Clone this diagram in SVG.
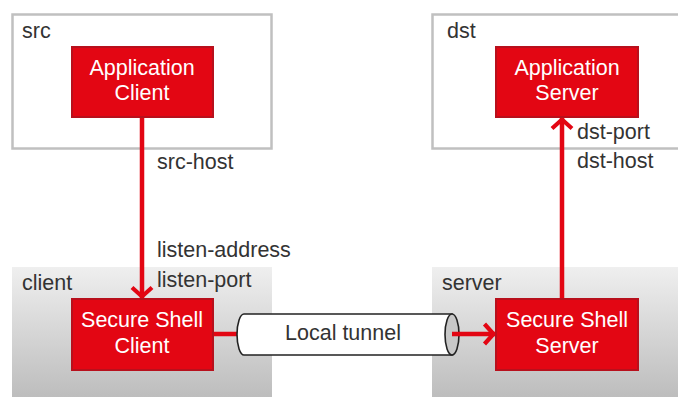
<svg xmlns="http://www.w3.org/2000/svg" width="678" height="397" viewBox="0 0 678 397">
<defs>
<linearGradient id="gz" x1="0" y1="0" x2="0" y2="1">
<stop offset="0" stop-color="#efefef"/>
<stop offset="1" stop-color="#bdbdbd"/>
</linearGradient>
<marker id="ah" viewBox="0 0 16 26" refX="13.5" refY="13" markerWidth="16" markerHeight="26" markerUnits="userSpaceOnUse" orient="auto">
<path d="M3,3 L12,13 L3,23" fill="none" stroke="#e30613" stroke-width="4.2"/>
</marker>
</defs>
<style>
.zone{fill:#ffffff;stroke:#c0c0c0;stroke-width:2.5}
.gzone{fill:url(#gz);stroke:none}
.box{fill:#e30613;stroke:#b8101c;stroke-width:2}
.lbl{font-family:"Liberation Sans",Arial,sans-serif;font-size:21.5px;fill:#333333}
.wt{font-family:"Liberation Sans",Arial,sans-serif;font-size:21.5px;fill:#ffffff;text-anchor:middle}
.conn{stroke:#e30613;stroke-width:4.5;fill:none}
</style>
<rect width="678" height="397" fill="#ffffff"/>
<g id="src">
<rect class="zone" x="12.5" y="14.5" width="259" height="134"/>
<text class="lbl" x="22" y="38">src</text>
</g>
<g id="dst">
<rect class="zone" x="432.5" y="14.5" width="250" height="134"/>
<text class="lbl" x="447" y="38">dst</text>
</g>
<g id="client">
<rect class="gzone" x="12" y="267" width="260" height="130"/>
<text class="lbl" x="22" y="290">client</text>
</g>
<g id="server">
<rect class="gzone" x="432" y="267" width="246" height="130"/>
<text class="lbl" x="442" y="290">server</text>
</g>
<g id="connectors">
<line class="conn" x1="142" y1="117" x2="142" y2="298" marker-end="url(#ah)"/>
<line class="conn" x1="562" y1="299" x2="562" y2="118" marker-end="url(#ah)"/>
<line class="conn" x1="213" y1="334" x2="240" y2="334"/>
<line class="conn" x1="452" y1="334" x2="495" y2="334" marker-end="url(#ah)"/>
<text class="lbl" x="157" y="169">src-host</text>
<text class="lbl" x="157" y="257">listen-address</text>
<text class="lbl" x="157" y="287">listen-port</text>
<text class="lbl" x="577" y="139">dst-port</text>
<text class="lbl" x="577" y="168">dst-host</text>
</g>
<g id="tunnel">
<path d="M244,314 L452,314 L452,355 L244,355 A7,20.5 0 0 1 244,314 Z" fill="#ffffff" stroke="#222222" stroke-width="1.6"/>
<ellipse cx="452" cy="334.5" rx="7" ry="20.5" fill="#c8c8c8" stroke="#222222" stroke-width="1.6"/>
<line class="conn" x1="452" y1="334" x2="460" y2="334"/>
<text class="lbl" x="343" y="340" text-anchor="middle">Local tunnel</text>
</g>
<g id="app-client">
<rect class="box" x="72" y="47" width="141" height="70"/>
<text class="wt" x="142" y="75">Application</text>
<text class="wt" x="142" y="100">Client</text>
</g>
<g id="app-server">
<rect class="box" x="496" y="47" width="142" height="70"/>
<text class="wt" x="567" y="75">Application</text>
<text class="wt" x="567" y="100">Server</text>
</g>
<g id="ssh-client">
<rect class="box" x="72" y="299" width="141" height="71"/>
<text class="wt" x="142" y="327">Secure Shell</text>
<text class="wt" x="142" y="353">Client</text>
</g>
<g id="ssh-server">
<rect class="box" x="496" y="299" width="142" height="71"/>
<text class="wt" x="567" y="327">Secure Shell</text>
<text class="wt" x="567" y="353">Server</text>
</g>
</svg>
